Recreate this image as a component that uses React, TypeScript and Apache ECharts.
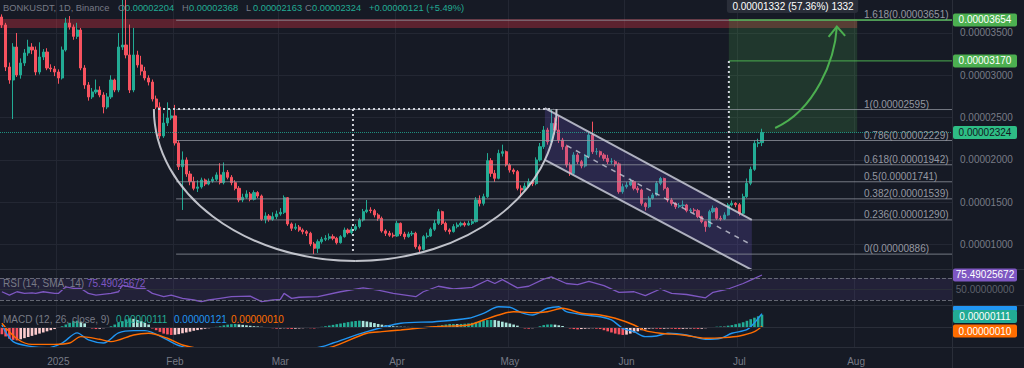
import React, { useEffect, useRef } from 'react';
import * as echarts from 'echarts';

const START_UTC = Date.UTC(2024, 11, 17);
const DAY_COUNT = 253;
const categories: string[] = Array.from({ length: DAY_COUNT }, (_, i) =>
  new Date(START_UTC + i * 86400000).toISOString().slice(0, 10));
const MONTHS = ['Jan', 'Feb', 'Mar', 'Apr', 'May', 'Jun', 'Jul', 'Aug', 'Sep', 'Oct', 'Nov', 'Dec'];

// prices in units of 0.00000001
const firstOpen = 3689;
const closes = [
  3595, 3098, 2944, 3334, 3004, 3145, 3264, 3334, 3299, 3039,
  3216, 3275, 3086, 3075, 3039, 2968, 3299, 3618, 3571, 3460,
  3535, 3086, 2885, 2744, 2803, 2826, 2767, 2625, 2744, 2944,
  2826, 3334, 3358, 3240, 2826, 3240, 3122, 3050, 2968, 2920,
  2720, 2625, 2283, 2436, 2495, 2520, 2200, 1919, 1999, 1833,
  1743, 1664, 1680, 1762, 1715, 1750, 1771, 1822, 1731, 1853,
  1794, 1731, 1664, 1526, 1558, 1597, 1534, 1613, 1573, 1298,
  1337, 1298, 1329, 1361, 1380, 1553, 1242, 1191, 1205, 1171,
  1151, 1132, 1006, 955, 1033, 1062, 1073, 1092, 1073, 1021,
  1092, 1171, 1140, 1179, 1211, 1289, 1388, 1408, 1400, 1349,
  1309, 1160, 1132, 1110, 1100, 1250, 1124, 1092, 1124, 1132,
  974, 943, 1092, 1100, 1180, 1250, 1388, 1250, 1171, 1152,
  1211, 1230, 1250, 1230, 1250, 1270, 1526, 1486, 1565, 1991,
  1841, 1782, 2077, 2097, 1940, 1880, 1861, 1664, 1644, 1691,
  1743, 1720, 1999, 2156, 2353, 2215, 2432, 2353, 2235, 2156,
  1940, 1841, 2058, 1979, 1928, 2038, 2294, 2097, 2097, 2058,
  2018, 1979, 1979, 1952, 1624, 1683, 1703, 1743, 1664, 1644,
  1486, 1447, 1546, 1585, 1723, 1780, 1664, 1526, 1486, 1447,
  1460, 1467, 1400, 1408, 1400, 1329, 1270, 1211, 1388, 1427,
  1309, 1300, 1349, 1467, 1486, 1470, 1368, 1565, 1723, 1888,
  2196, 2204, 2324,
];
const highs = [
  3720, 3620, 3150, 3380, 3500, 3200, 3310, 3420, 3380, 3340,
  3390, 3310, 3320, 3130, 3110, 3070, 3340, 3680, 3700, 3600,
  3620, 3560, 3120, 2920, 2850, 2950, 2870, 2800, 2790, 3000,
  2960, 3500, 3950, 3950, 3600, 3560, 3290, 3230, 3100, 3000,
  2950, 2760, 2680, 2550, 2680, 2600, 2650, 2230, 2100, 2030,
  1870, 1800, 1760, 1790, 1780, 1780, 1800, 1853, 1960, 1970,
  1880, 1820, 1760, 1690, 1600, 1640, 1620, 1640, 1630, 1590,
  1380, 1360, 1380, 1400, 1430, 1580, 1560, 1260, 1250, 1230,
  1190, 1170, 1150, 1030, 1060, 1090, 1110, 1130, 1120, 1090,
  1110, 1200, 1190, 1210, 1240, 1310, 1420, 1526, 1440, 1420,
  1370, 1330, 1180, 1160, 1140, 1280, 1260, 1150, 1150, 1160,
  1150, 1000, 1110, 1140, 1200, 1290, 1420, 1400, 1270, 1190,
  1240, 1260, 1270, 1270, 1280, 1300, 1560, 1580, 1600, 2080,
  2020, 1880, 2120, 2180, 2110, 1960, 1900, 1880, 1700, 1730,
  1780, 1760, 2030, 2200, 2400, 2380, 2595, 2500, 2520, 2260,
  2180, 1970, 2090, 2080, 2000, 2070, 2320, 2452, 2140, 2110,
  2080, 2060, 2020, 2000, 1970, 1720, 1740, 1780, 1760, 1690,
  1660, 1500, 1570, 1610, 1750, 1800, 1790, 1680, 1550, 1500,
  1490, 1520, 1480, 1430, 1430, 1420, 1340, 1280, 1410, 1460,
  1440, 1340, 1380, 1490, 1520, 1500, 1490, 1600, 1780, 1920,
  2230, 2250, 2368,
];
const lows = [
  3560, 3050, 2900, 2483, 2980, 2960, 3110, 3230, 3250, 3000,
  3010, 3180, 3060, 3040, 2990, 2900, 2950, 3280, 3540, 3420,
  3430, 3060, 2840, 2700, 2720, 2780, 2740, 2550, 2600, 2720,
  2800, 2800, 3300, 3200, 2790, 2800, 3090, 3000, 2940, 2880,
  2690, 2600, 2250, 2260, 2400, 2470, 2170, 1880, 1408, 1800,
  1700, 1640, 1620, 1660, 1690, 1700, 1730, 1750, 1710, 1710,
  1770, 1700, 1640, 1500, 1500, 1540, 1510, 1520, 1550, 1280,
  1250, 1270, 1280, 1300, 1340, 1360, 1220, 1160, 1170, 1150,
  1120, 1100, 980, 886, 900, 1010, 1040, 1050, 1050, 1000,
  1010, 1080, 1120, 1120, 1160, 1190, 1270, 1370, 1370, 1320,
  1280, 1140, 1100, 1090, 1080, 1090, 1100, 1060, 1080, 1100,
  950, 910, 930, 1070, 1090, 1160, 1230, 1230, 1150, 1120,
  1140, 1190, 1210, 1210, 1220, 1230, 1260, 1450, 1460, 1550,
  1800, 1740, 1770, 2040, 1920, 1850, 1830, 1640, 1560, 1620,
  1670, 1690, 1700, 1980, 2130, 2180, 2200, 2300, 2200, 2120,
  1910, 1810, 1830, 1950, 1900, 1910, 2020, 2070, 2060, 2030,
  1990, 1950, 1950, 1920, 1600, 1600, 1660, 1690, 1640, 1610,
  1460, 1400, 1430, 1530, 1570, 1700, 1640, 1500, 1460, 1420,
  1430, 1440, 1380, 1380, 1370, 1310, 1250, 1150, 1200, 1370,
  1290, 1280, 1290, 1340, 1450, 1440, 1340, 1350, 1550, 1700,
  1870, 2150, 2163,
];

const priceTicks = [1000, 1500, 2000, 2500, 3000, 3500];
const fibLevels: [string, number][] = [
  ['1.618', 3651], ['1', 2595], ['0.786', 2229], ['0.618', 1942],
  ['0.5', 1741], ['0.382', 1539], ['0.236', 1290], ['0', 886],
];

// RSI (day index, value)
const rsiPoints: [number, number][] = [
  [0, 45], [2, 39], [4, 45], [6, 42], [8, 43], [9, 42], [11, 45], [14, 42], [15, 42], [17, 54],
  [19, 51], [21, 51], [23, 42], [25, 39], [29, 42], [31, 45], [32, 57], [34, 54], [36, 51], [38, 51],
  [40, 42], [43, 36], [45, 39], [48, 33], [51, 30], [53, 27], [55, 30], [58, 33], [61, 36], [66, 37],
  [69, 27], [72, 30], [74, 31], [75, 42], [77, 33], [79, 35], [84, 36], [90, 45], [96, 52], [100, 48],
  [104, 42], [110, 36], [112, 45], [116, 55], [120, 50], [125, 53], [129, 66], [131, 60], [133, 67], [137, 52],
  [140, 55], [144, 68], [146, 72], [150, 60], [153, 58], [156, 64], [160, 56], [164, 44], [168, 45], [171, 38],
  [175, 50], [178, 42], [182, 40], [187, 34], [189, 44], [193, 50], [197, 60], [199, 66], [202, 75.49],
];

// MACD histogram per day (units of 0.00000001)
const macdHist = [
  -60, -80, -100, -110, -115,
  -105, -95, -85, -75, -65, -55, -45, -35, -25, -15, -5,
  10, 25, 40, 55, 59, 50, 35,
  -5, -10, -15, -12, -8, -5,
  10, 25, 40, 55, 70, 80, 75, 65, 55, 40, 25,
  -10, -25, -40, -55, -62, -67, -65, -60, -52, -45, -38, -30, -24, -18, -12, -8, -4,
  5, 10, 18, 24, 28, 30, 26, 22, 18, 14, 10, 8, 5, 3,
  -4, -8, -12, -10, -8, -12, -14, -12, -10, -8, -6, -8, -10, -6,
  5, 10, 16, 22, 28, 34, 40, 46, 52, 56, 59, 57, 52, 45, 38, 30,
  24, 18, 14, 10, 8, 6, 5, 4, 4, 3, 2, 3, 4, 6,
  10, 15, 20, 25, 30, 30, 28, 30, 32, 35,
  40, 48, 55, 60, 64, 65, 64,
  58, 50, 42, 34, 25, 15,
  -5, -10, -12, -8, -4,
  10, 20, 25, 26, 24, 18, 12,
  -5, -10, -15, -18, -15, -12, -10, -8, -12, -15,
  -25, -35, -45, -55, -62, -67, -64, -55, -45,
  -35, -25, -18, -12,
  -10, -12, -14, -12, -10, -12, -14, -15, -13, -11, -10, -12, -14, -12, -8, -4,
  3, 6, 8, 6,
  15, 20, 28, 35, 45, 58, 72, 85, 98, 111,
];
const macdPoints: [number, number][] = [
  [0, 21], [3, -126], [8, -170], [12, -180], [16, -138], [20, -49], [23, -111], [27, -138], [31, -49], [35, -29],
  [38, -29], [44, -111], [47, -160], [55, -230], [65, -240], [75, -230], [85, -170], [88, -138], [97, -38], [106, 36],
  [115, 50], [124, 80], [128, 124], [132, 182], [135, 177], [138, 130], [141, 109], [145, 168], [148, 182], [150, 138],
  [155, 109], [159, 94], [162, 65], [165, -8], [168, -38], [171, -82], [174, -76], [177, -52], [182, -67], [187, -105],
  [191, -96], [194, -52], [198, -20], [200, 40], [201, 80], [202, 121],
];
const signalPoints: [number, number][] = [
  [0, 36], [4, -100], [8, -150], [14, -150], [18, -138], [21, -82], [26, -105], [29, -126], [35, -67], [39, -52],
  [44, -96], [48, -155], [55, -200], [65, -225], [75, -225], [85, -190], [88, -170], [97, -52], [101, -38], [106, -23],
  [115, 6], [124, 21], [128, 65], [132, 109], [136, 138], [141, 130], [145, 138], [149, 168], [154, 124], [159, 109],
  [163, 80], [168, 21], [171, -29], [175, -52], [181, -67], [187, -96], [192, -90], [196, -76], [200, -38], [202, 10],
];

const BG = '#161a25';
const GRID_C = '#232733';
const SEP_C = '#2a2e39';
const TXT = '#787b86';
const UP = '#22ab94';
const DOWN = '#f7525f';
const FONT = '"Liberation Sans", Arial, sans-serif';

const fmt8 = (v: number) => (v / 1e8).toFixed(8);
const isMonthStart = (_i: number, v: string) => v.slice(8, 10) === '01';
const monthLabel = (v: string) => {
  if (v.slice(8, 10) !== '01') return '';
  const m = Number(v.slice(5, 7));
  return m === 1 ? v.slice(0, 4) : MONTHS[m - 1];
};

const candleData = closes.map((c, i) => [i === 0 ? firstOpen : closes[i - 1], c, lows[i], highs[i]]);

const histColor = (i: number) => {
  const v = macdHist[i];
  const prev = i > 0 ? macdHist[i - 1] : v;
  if (v >= 0) return v >= prev ? '#22ab94' : '#ace5dc';
  return v <= prev ? '#f7525f' : '#fccbcd';
};

function buildOption(): any {
  const xAxes = [0, 1, 2].map((g) => ({
    type: 'category', gridIndex: g, data: categories, boundaryGap: true,
    axisLine: { show: false }, axisTick: { show: false },
    axisLabel: g === 2
      ? { show: true, interval: isMonthStart, formatter: monthLabel, color: TXT, fontSize: 10, margin: 9, fontFamily: FONT }
      : { show: false },
    splitLine: { show: true, interval: isMonthStart, lineStyle: { color: GRID_C, width: 1 } },
  }));
  return {
    animation: false,
    backgroundColor: BG,
    grid: [
      { left: 0, right: 72, top: 0, height: 269 },
      { left: 0, right: 72, top: 269, height: 36 },
      { left: 0, right: 72, top: 305, height: 42 },
    ],
    xAxis: xAxes,
    yAxis: [
      {
        type: 'value', gridIndex: 0, position: 'right', min: 710, max: 3890,
        axisLine: { show: false }, axisTick: { show: false, customValues: priceTicks },
        axisLabel: { customValues: priceTicks, formatter: fmt8, color: TXT, fontSize: 10, margin: 8, fontFamily: FONT },
        splitLine: { show: true, lineStyle: { color: GRID_C } },
      },
      {
        type: 'value', gridIndex: 1, position: 'right', min: 20.9, max: 86.4,
        axisLine: { show: false }, axisTick: { show: false }, axisLabel: { show: false }, splitLine: { show: false },
      },
      {
        type: 'value', gridIndex: 2, position: 'right', min: -173, max: 197,
        axisLine: { show: false }, axisTick: { show: false }, axisLabel: { show: false }, splitLine: { show: false },
      },
    ],
    series: [
      {
        type: 'candlestick', xAxisIndex: 0, yAxisIndex: 0, data: candleData, barWidth: '70%',
        itemStyle: { color: UP, color0: DOWN, borderColor: UP, borderColor0: DOWN, borderWidth: 1 },
        markLine: {
          silent: true, symbol: 'none', label: { show: false },
          lineStyle: { color: UP, type: 'dotted', width: 1, opacity: 0.8 },
          data: [{ yAxis: closes[closes.length - 1] }],
        },
      },
      {
        type: 'line', xAxisIndex: 1, yAxisIndex: 1, showSymbol: false, symbol: 'none',
        data: rsiPoints.map(([i, v]) => [categories[i], v]),
        lineStyle: { color: '#7e57c2', width: 1.3 },
        markArea: { silent: true, itemStyle: { color: 'rgba(126,87,194,0.12)' }, data: [[{ yAxis: 70 }, { yAxis: 30 }]] },
        markLine: {
          silent: true, symbol: 'none', label: { show: false },
          lineStyle: { color: TXT, width: 1, type: 'dashed', opacity: 0.8 },
          data: [{ yAxis: 70 }, { yAxis: 30 }, { yAxis: 50, lineStyle: { type: 'solid', color: SEP_C, opacity: 1 } }],
        },
      },
      {
        type: 'bar', xAxisIndex: 2, yAxisIndex: 2, barWidth: '70%',
        data: macdHist.map((v, i) => ({ value: v, itemStyle: { color: histColor(i) } })),
        markLine: {
          silent: true, symbol: 'none', label: { show: false },
          lineStyle: { color: SEP_C, width: 1, type: 'solid' }, data: [{ yAxis: 0 }],
        },
      },
      {
        type: 'line', xAxisIndex: 2, yAxisIndex: 2, showSymbol: false, symbol: 'none', smooth: 0.3,
        data: macdPoints.map(([i, v]) => [categories[i], v]), lineStyle: { color: '#2196f3', width: 1.4 },
      },
      {
        type: 'line', xAxisIndex: 2, yAxisIndex: 2, showSymbol: false, symbol: 'none', smooth: 0.3,
        data: signalPoints.map(([i, v]) => [categories[i], v]), lineStyle: { color: '#ff6d00', width: 1.4 },
      },
    ],
  };
}

function buildGraphics(chart: any): any[] {
  const c0 = chart.convertToPixel({ gridIndex: 0 }, [0, 2000]);
  const c1 = chart.convertToPixel({ gridIndex: 0 }, [10, 2000]);
  const dx = (c1[0] - c0[0]) / 10;
  const X = (f: number) => c0[0] + f * dx;
  const Y = (v: number) => chart.convertToPixel({ gridIndex: 0 }, [0, v])[1];
  const Yr = (v: number) => chart.convertToPixel({ gridIndex: 1 }, [0, v])[1];
  const R = X(DAY_COUNT - 0.5);
  const els: any[] = [];
  const txt = (x: number, y: number, text: string, fill: string, align = 'left', size = 10, z = 30) => ({
    type: 'text', x, y, z, silent: true,
    style: { text, fill, fontSize: size, fontFamily: FONT, align, verticalAlign: 'middle' },
  });
  const line = (x1: number, y1: number, x2: number, y2: number, stroke: string, lineWidth = 1, lineDash?: number[], z = 10) => ({
    type: 'line', z, silent: true, shape: { x1, y1, x2, y2 }, style: { stroke, lineWidth, lineDash },
  });

  // red resistance band
  els.push({ type: 'rect', z: 1, silent: true, shape: { x: 0, y: Y(3665), width: X(227.3), height: Y(3559) - Y(3665) }, style: { fill: 'rgba(242,54,69,0.32)' } });
  // target zone
  const zx1 = X(193.2), zx2 = X(227.3);
  els.push({ type: 'rect', z: 1, silent: true, shape: { x: zx1, y: Y(3654), width: zx2 - zx1, height: Y(2324) - Y(3654) }, style: { fill: 'rgba(76,175,80,0.2)' } });

  // fib lines + labels
  fibLevels.forEach(([r, p]) => {
    els.push(line(X(46.3), Y(p), R, Y(p), 'rgba(150,153,163,0.75)', 1, undefined, 5));
    els.push({ type: 'text', x: 864, y: Y(p) - 0.5, z: 30, silent: true, style: { text: `${r}(${fmt8(p)})`, fill: '#9598a1', fontSize: 10, fontFamily: FONT, align: 'left', verticalAlign: 'bottom' } });
  });
  // green target lines
  els.push(line(zx1, Y(3654), R, Y(3654), '#4caf50', 1.5, undefined, 12));
  els.push(line(zx1, Y(3170), R, Y(3170), '#4caf50', 1, undefined, 12));

  // dotted measure lines
  const dot = [2, 3];
  els.push(line(X(41.5), Y(2600), X(146.5), Y(2600), '#d1d4dc', 2, dot, 12));
  els.push(line(X(93.3), Y(2600), X(93.3), Y(900), '#d1d4dc', 2, dot, 12));
  els.push(line(zx1, Y(3170), zx1, Y(1550), '#d1d4dc', 2, dot, 12));

  // cup (half ellipse as two bezier quarters)
  const cxl = X(40.4), cxr = X(147.4), cx = (cxl + cxr) / 2, rx = (cxr - cxl) / 2;
  const cy = Y(2600), ry = Y(805) - cy, k = 0.5523;
  const cupStyle = { stroke: 'rgba(209,212,220,0.9)', lineWidth: 2, fill: null };
  els.push({ type: 'bezierCurve', z: 11, silent: true, shape: { x1: cxl, y1: cy, cpx1: cxl, cpy1: cy + k * ry, cpx2: cx - k * rx, cpy2: cy + ry, x2: cx, y2: cy + ry }, style: cupStyle });
  els.push({ type: 'bezierCurve', z: 11, silent: true, shape: { x1: cx, y1: cy + ry, cpx1: cx + k * rx, cpy1: cy + ry, cpx2: cxr, cpy2: cy + k * ry, x2: cxr, y2: cy }, style: cupStyle });

  // descending channel
  const chL = X(144.3), chR = X(199.3);
  els.push({ type: 'polygon', z: 3, silent: true, shape: { points: [[chL, Y(2613)], [chR, Y(1290)], [chR, Y(699)], [chL, Y(1999)]] }, style: { fill: 'rgba(112,92,214,0.22)' } });
  els.push(line(chL, Y(2613), chR, Y(1290), 'rgba(200,202,215,0.85)', 2, undefined, 11));
  els.push(line(chL, Y(1999), chR, Y(699), 'rgba(200,202,215,0.85)', 2, undefined, 11));
  els.push(line(X(150.2), Y(2167), chR, Y(994), 'rgba(200,202,215,0.8)', 1.5, [5, 5], 11));

  // arrow
  els.push({ type: 'bezierCurve', z: 12, silent: true, shape: { x1: X(205.5), y1: Y(2377), cpx1: X(216.1), cpy1: Y(2590), cpx2: X(221.4), cpy2: Y(3181), x2: X(221.9), y2: Y(3575) }, style: { stroke: '#4caf50', lineWidth: 2, fill: null } });
  els.push({ type: 'polyline', z: 12, silent: true, shape: { points: [[X(219.7), Y(3453)], [X(221.9), Y(3575)], [X(224.1), Y(3465)]] }, style: { stroke: '#4caf50', lineWidth: 2, fill: null } });

  // measure box at the top
  els.push({ type: 'rect', z: 25, silent: true, shape: { x: zx1 - 2, y: -3, width: zx2 - zx1 + 3, height: 16, r: 3 }, style: { fill: '#2a2e39' } });
  els.push(txt((zx1 + zx2) / 2, 6.5, '0.00001332 (57.36%) 1332', '#ffffff', 'center'));

  // pane separators
  els.push(line(0, 269.5, 1024, 269.5, SEP_C, 1, undefined, 20));
  els.push(line(0, 305.5, 1024, 305.5, SEP_C, 1, undefined, 20));
  els.push(line(0, 347.5, 1024, 347.5, SEP_C, 1, undefined, 20));
  els.push(line(R + 0.5, 0, R + 0.5, 368, SEP_C, 1, undefined, 20));

  // right side value boxes
  const box = (y: number, label: string, fill: string, color: string) => {
    els.push({ type: 'rect', z: 28, silent: true, shape: { x: R + 1, y: y - 6.5, width: 64, height: 13, r: 2 }, style: { fill } });
    els.push(txt(R + 33, y, label, color, 'center'));
  };
  box(Y(3654), fmt8(3654), '#4caf50', '#ffffff');
  box(Y(3170), fmt8(3170), '#4caf50', '#ffffff');
  box(Y(2324), fmt8(2324), '#2ebd85', '#131722');
  box(Yr(75.49), '75.49025672', '#7e57c2', '#ffffff');
  els.push(txt(R + 33, Yr(50), '50.00000000', '#5d606b', 'center'));
  els.push({ type: 'rect', z: 27, silent: true, shape: { x: R + 1, y: 306, width: 64, height: 5, r: 1 }, style: { fill: '#2196f3' } });
  box(316.5, '0.00000111', '#22ab94', '#ffffff');
  box(331, '0.00000010', '#ff6d00', '#ffffff');

  // legends
  const hy = 7.5, hs = 9.3;
  els.push(txt(3, hy, 'BONKUSDT, 1D, Binance', TXT, 'left', hs));
  const ohlc: [number, string, string][] = [[118, 'O', '0.00002204'], [182, 'H', '0.00002368'], [246, 'L', '0.00002163'], [305, 'C', '0.00002324']];
  ohlc.forEach(([x, k2, v]) => { els.push(txt(x, hy, k2, TXT, 'left', hs)); els.push(txt(x + 7, hy, v, UP, 'left', hs)); });
  els.push(txt(369, hy, '+0.00000121 (+5.49%)', UP, 'left', hs));
  els.push(txt(3, 283, 'RSI (14, SMA, 14)', TXT));
  els.push(txt(87, 283, '75.49025672', '#7e57c2'));
  els.push(txt(3, 319, 'MACD (12, 26, close, 9)', TXT));
  els.push(txt(116, 319, '0.00000111', '#22ab94'));
  els.push(txt(174, 319, '0.00000121', '#2196f3'));
  els.push(txt(231, 319, '0.00000010', '#ff6d00'));
  return els;
}

export default function App() {
  const ref = useRef<HTMLDivElement>(null);
  useEffect(() => {
    document.body.style.margin = '0';
    document.body.style.background = BG;
    const chart = echarts.init(ref.current!, null, { renderer: 'svg' });
    chart.setOption(buildOption());
    chart.setOption({ graphic: { elements: buildGraphics(chart) } });
    return () => chart.dispose();
  }, []);
  return <div ref={ref} style={{ width: 1024, height: 368 }} />;
}
